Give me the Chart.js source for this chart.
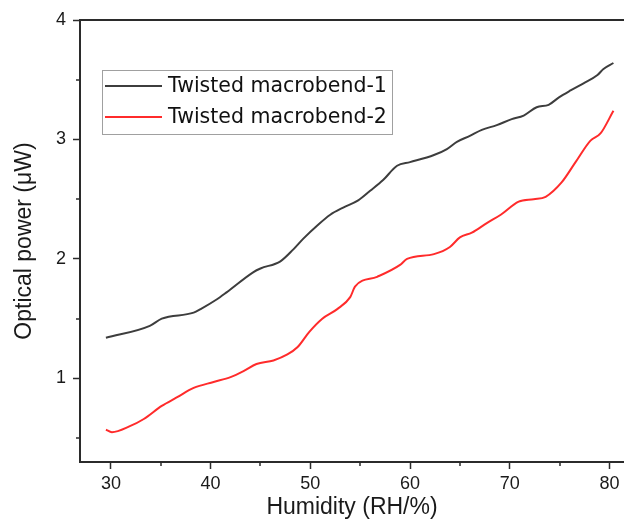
<!DOCTYPE html>
<html>
<head>
<meta charset="utf-8">
<script src="https://cdn.jsdelivr.net/npm/chart.js@4.4.1/dist/chart.umd.min.js"></script>
<style>
  html, body { margin: 0; padding: 0; background: #fff; overflow: hidden; }
  #chart { display: block; }
</style>
</head>
<body>
<canvas id="chart" width="624" height="522"></canvas>
<script>
'use strict';

// ─── Data ───────────────────────────────────────────────────────────────
const seriesNames = ['Twisted macrobend-1', 'Twisted macrobend-2'];

const humidity1 = [29.5, 33.9, 35.1, 38.3, 39.0, 40.6, 41.6, 44.3, 45.0, 47.0, 48.3, 49.3,
  50.7, 52.0, 53.3, 54.8, 56.0, 57.3, 58.7, 60.0, 62.4, 63.7, 64.7, 66.0, 67.2, 68.7,
  70.2, 71.4, 72.7, 73.9, 74.9, 76.1, 77.4, 78.8, 79.4, 80.4];
const power1 = [1.34, 1.44, 1.50, 1.55, 1.58, 1.66, 1.72, 1.89, 1.92, 1.98, 2.08, 2.17,
  2.28, 2.37, 2.43, 2.49, 2.57, 2.66, 2.78, 2.81, 2.87, 2.92, 2.98, 3.03, 3.08, 3.12,
  3.17, 3.20, 3.27, 3.29, 3.35, 3.41, 3.47, 3.54, 3.59, 3.64];

const humidity2 = [29.5, 30.1, 31.9, 33.3, 35.1, 36.6, 38.3, 40.3, 42.0, 43.3, 44.6, 46.3,
  47.7, 48.7, 49.9, 51.2, 52.7, 54.0, 54.5, 56.7, 59.0, 59.7, 62.4, 64.0, 65.0, 66.2,
  67.7, 69.1, 70.9, 72.4, 73.6, 75.2, 76.6, 78.1, 79.1, 80.4];
const power2 = [0.57, 0.55, 0.60, 0.66, 0.77, 0.84, 0.92, 0.97, 1.01, 1.06, 1.12, 1.15,
  1.20, 1.26, 1.39, 1.50, 1.58, 1.68, 1.77, 1.85, 1.95, 2.00, 2.04, 2.10, 2.18, 2.22,
  2.30, 2.37, 2.48, 2.50, 2.52, 2.64, 2.81, 2.99, 3.05, 3.24];

const xMajorTicks = [30, 40, 50, 60, 70, 80];
const xMinorTicks = [35, 45, 55, 65, 75];
const yMajorTicks = [1, 2, 3, 4];
const yMinorTicks = [0.5, 1.5, 2.5, 3.5];

const COLORS = ['#3d3d3d', '#ff2b2b'];
const AXIS_COLOR = '#2b2b2b';
const FONT = 'Liberation Sans, Arial, sans-serif';

function toPoints(xs, ys) {
  return xs.map((x, i) => ({ x, y: ys[i] }));
}

// ─── Minor ticks, top frame and boxed legend ────────────────────────────
const framePlugin = {
  id: 'frame',
  afterDraw(chart) {
    const { ctx, chartArea: a, scales } = chart;
    ctx.save();
    ctx.strokeStyle = AXIS_COLOR;
    ctx.lineWidth = 1.5;
    ctx.beginPath();
    xMinorTicks.forEach(v => {
      const px = Math.round(scales.x.getPixelForValue(v));
      ctx.moveTo(px, a.bottom); ctx.lineTo(px, a.bottom + 4);
    });
    yMinorTicks.forEach(v => {
      const py = Math.round(scales.y.getPixelForValue(v));
      ctx.moveTo(a.left, py); ctx.lineTo(a.left - 4, py);
    });
    ctx.stroke();

    // top frame line
    ctx.lineWidth = 2;
    ctx.beginPath();
    ctx.moveTo(a.left - 1, a.top);
    ctx.lineTo(a.right, a.top);
    ctx.stroke();

    // legend box
    const bx = a.left + 22, by = a.top + 50, bw = 290, bh = 64;
    ctx.fillStyle = '#fff';
    ctx.fillRect(bx, by, bw, bh);
    ctx.strokeStyle = '#a0a0a0';
    ctx.lineWidth = 1;
    ctx.strokeRect(bx + 0.5, by + 0.5, bw, bh);
    ctx.font = '20.5px "DejaVu Sans", Tahoma, sans-serif';
    ctx.textBaseline = 'middle';
    seriesNames.forEach((name, i) => {
      const cy = by + 16 + i * 31;
      ctx.strokeStyle = COLORS[i];
      ctx.lineWidth = 2;
      ctx.beginPath();
      ctx.moveTo(bx + 3, cy); ctx.lineTo(bx + 60, cy);
      ctx.stroke();
      ctx.fillStyle = '#111';
      ctx.fillText(name, bx + 66, cy + 1);
    });
    ctx.restore();
  },
};

new Chart(document.getElementById('chart'), {
  type: 'line',
  data: {
    datasets: [
      { label: seriesNames[0], data: toPoints(humidity1, power1) },
      { label: seriesNames[1], data: toPoints(humidity2, power2) },
    ].map((d, i) => ({
      ...d,
      borderColor: COLORS[i],
      borderWidth: 2,
      pointRadius: 0,
      cubicInterpolationMode: 'monotone',
      fill: false,
    })),
  },
  options: {
    responsive: false,
    animation: false,
    devicePixelRatio: 1,
    layout: { padding: { top: 20, right: 0, left: 0, bottom: 0 } },
    plugins: { legend: { display: false }, tooltip: { enabled: false } },
    scales: {
      x: {
        type: 'linear',
        min: 26.9, max: 81.46,
        ticks: {
          stepSize: 10,
          color: '#1a1a1a',
          font: { family: FONT, size: 18 },
          padding: 4,
          maxRotation: 0,
        },
        afterBuildTicks: s => { s.ticks = xMajorTicks.map(v => ({ value: v })); },
        afterFit: s => { s.height = 60; },
        grid: { drawOnChartArea: false, color: AXIS_COLOR, tickLength: 7, tickWidth: 1.5 },
        border: { display: true, color: AXIS_COLOR, width: 2 },
        title: {
          display: true, text: 'Humidity (RH/%)', color: '#1a1a1a',
          font: { family: FONT, size: 23 }, padding: { top: 0, bottom: 1 },
        },
      },
      y: {
        type: 'linear',
        min: 0.3, max: 4,
        ticks: {
          stepSize: 1,
          color: '#1a1a1a',
          font: { family: FONT, size: 18 },
          padding: 7,
        },
        afterBuildTicks: s => { s.ticks = yMajorTicks.map(v => ({ value: v })); },
        afterFit: s => { s.width = 80; },
        grid: { drawOnChartArea: false, color: AXIS_COLOR, tickLength: 7, tickWidth: 1.5 },
        border: { display: true, color: AXIS_COLOR, width: 2 },
        title: {
          display: true, text: 'Optical power (μW)', color: '#1a1a1a',
          font: { family: FONT, size: 23 }, padding: { top: 11, bottom: 0 },
        },
      },
    },
  },
  plugins: [framePlugin],
});
</script>
</body>
</html>
